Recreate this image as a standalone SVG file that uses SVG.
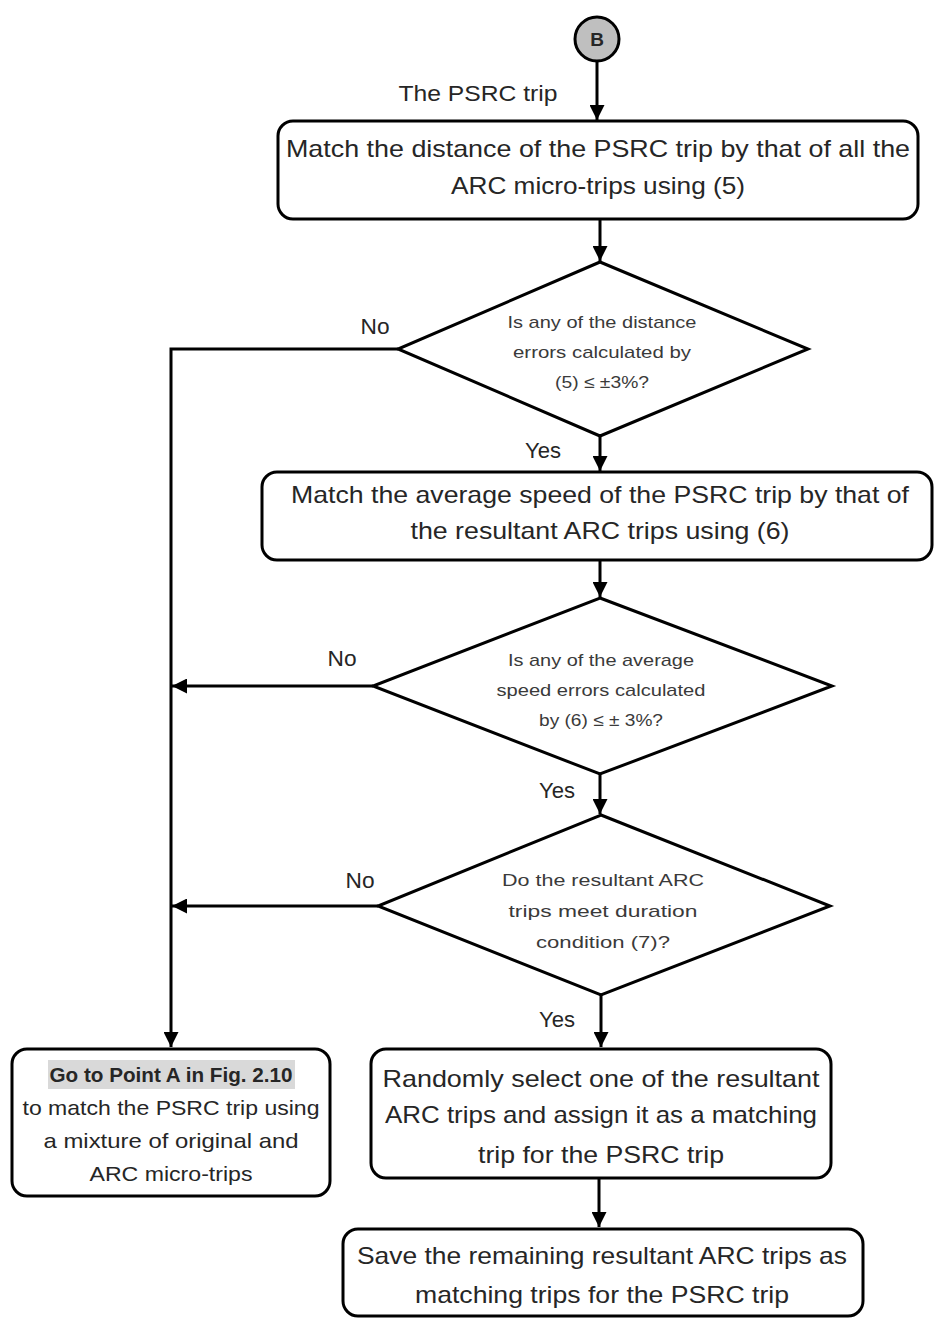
<svg xmlns="http://www.w3.org/2000/svg" width="934" height="1318" viewBox="0 0 934 1318">
<style>
.box{fill:#fff;stroke:#000;stroke-width:3}
.dia{fill:#fff;stroke:#000;stroke-width:3}
.ln{fill:none;stroke:#000;stroke-width:3}
.t{font-family:"Liberation Sans",Arial,sans-serif;font-size:24px;fill:#262626;text-anchor:middle}
.d{font-family:"Liberation Sans",Arial,sans-serif;font-size:17px;fill:#3a3a3a;text-anchor:middle}
.lbl{font-family:"Liberation Sans",Arial,sans-serif;font-size:22px;fill:#262626;text-anchor:middle}
.g{font-family:"Liberation Sans",Arial,sans-serif;font-size:21px;fill:#262626;text-anchor:middle}
</style>
<defs>
<marker id="ah" viewBox="0 0 10 10" refX="10" refY="5" markerWidth="5" markerHeight="5" markerUnits="strokeWidth" orient="auto">
<path d="M0,0 L10,5 L0,10 Z" fill="#000"/>
</marker>
</defs>
<g id="connectors">
<line class="ln" x1="597" y1="61" x2="597" y2="120" marker-end="url(#ah)"/>
<line class="ln" x1="600" y1="219" x2="600" y2="261" marker-end="url(#ah)"/>
<polyline class="ln" points="398,349 171,349 171,1047" marker-end="url(#ah)"/>
<line class="ln" x1="600" y1="436" x2="600" y2="471" marker-end="url(#ah)"/>
<line class="ln" x1="600" y1="560" x2="600" y2="597" marker-end="url(#ah)"/>
<line class="ln" x1="373" y1="686" x2="172" y2="686" marker-end="url(#ah)"/>
<line class="ln" x1="600" y1="774" x2="600" y2="814" marker-end="url(#ah)"/>
<line class="ln" x1="378" y1="906" x2="172" y2="906" marker-end="url(#ah)"/>
<line class="ln" x1="601" y1="995" x2="601" y2="1047" marker-end="url(#ah)"/>
<line class="ln" x1="599" y1="1178" x2="599" y2="1227" marker-end="url(#ah)"/>
<text class="lbl" x="478" y="101" textLength="159" lengthAdjust="spacingAndGlyphs">The PSRC trip</text>
<text class="lbl" x="375" y="334" textLength="29" lengthAdjust="spacingAndGlyphs">No</text>
<text class="lbl" x="543" y="458" textLength="36" lengthAdjust="spacingAndGlyphs">Yes</text>
<text class="lbl" x="342" y="666" textLength="29" lengthAdjust="spacingAndGlyphs">No</text>
<text class="lbl" x="557" y="798" textLength="36" lengthAdjust="spacingAndGlyphs">Yes</text>
<text class="lbl" x="360" y="888" textLength="29" lengthAdjust="spacingAndGlyphs">No</text>
<text class="lbl" x="557" y="1027" textLength="36" lengthAdjust="spacingAndGlyphs">Yes</text>
</g>
<g id="nodeB">
<circle cx="597" cy="39" r="22" fill="#bfbfbf" stroke="#000" stroke-width="3"/>
<text x="597" y="46" font-family="Liberation Sans,Arial,sans-serif" font-size="19" font-weight="bold" fill="#262626" text-anchor="middle">B</text>
</g>
<g id="box1">
<rect class="box" x="278" y="121" width="640" height="98" rx="15"/>
<text class="t" x="598" y="157" textLength="624" lengthAdjust="spacingAndGlyphs">Match the distance of the PSRC trip by that of all the</text>
<text class="t" x="598" y="194" textLength="294" lengthAdjust="spacingAndGlyphs">ARC micro-trips using (5)</text>
</g>
<g id="dia1">
<polygon class="dia" points="600,262 808,349 600,436 398,349"/>
<text class="d" x="602" y="328" textLength="189" lengthAdjust="spacingAndGlyphs">Is any of the distance</text>
<text class="d" x="602" y="358" textLength="178" lengthAdjust="spacingAndGlyphs">errors calculated by</text>
<text class="d" x="602" y="388" textLength="94" lengthAdjust="spacingAndGlyphs">(5) ≤ ±3%?</text>
</g>
<g id="box2">
<rect class="box" x="262" y="472" width="670" height="88" rx="15"/>
<text class="t" x="600" y="503" textLength="618" lengthAdjust="spacingAndGlyphs">Match the average speed of the PSRC trip by that of</text>
<text class="t" x="600" y="539" textLength="379" lengthAdjust="spacingAndGlyphs">the resultant ARC trips using (6)</text>
</g>
<g id="dia2">
<polygon class="dia" points="600,598 832,686 600,774 373,686"/>
<text class="d" x="601" y="666" textLength="186" lengthAdjust="spacingAndGlyphs">Is any of the average</text>
<text class="d" x="601" y="696" textLength="209" lengthAdjust="spacingAndGlyphs">speed errors calculated</text>
<text class="d" x="601" y="726" textLength="124" lengthAdjust="spacingAndGlyphs">by (6) ≤ ± 3%?</text>
</g>
<g id="dia3">
<polygon class="dia" points="601,815 830,906 601,995 378,906"/>
<text class="d" x="603" y="886" textLength="202" lengthAdjust="spacingAndGlyphs">Do the resultant ARC</text>
<text class="d" x="603" y="917" textLength="189" lengthAdjust="spacingAndGlyphs">trips meet duration</text>
<text class="d" x="603" y="948" textLength="134" lengthAdjust="spacingAndGlyphs">condition (7)?</text>
</g>
<g id="boxGo">
<rect class="box" x="12" y="1049" width="318" height="147" rx="15"/>
<rect x="48" y="1060" width="247" height="29" fill="#d9d9d9"/>
<text class="g" x="171" y="1082" font-weight="bold" textLength="243" lengthAdjust="spacingAndGlyphs">Go to Point A in Fig. 2.10</text>
<text class="g" x="171" y="1115" textLength="297" lengthAdjust="spacingAndGlyphs">to match the PSRC trip using</text>
<text class="g" x="171" y="1148" textLength="255" lengthAdjust="spacingAndGlyphs">a mixture of original and</text>
<text class="g" x="171" y="1181" textLength="163" lengthAdjust="spacingAndGlyphs">ARC micro-trips</text>
</g>
<g id="boxRandom">
<rect class="box" x="371" y="1049" width="460" height="129" rx="15"/>
<text class="t" x="601" y="1087" textLength="437" lengthAdjust="spacingAndGlyphs">Randomly select one of the resultant</text>
<text class="t" x="601" y="1123" textLength="432" lengthAdjust="spacingAndGlyphs">ARC trips and assign it as a matching</text>
<text class="t" x="601" y="1163" textLength="246" lengthAdjust="spacingAndGlyphs">trip for the PSRC trip</text>
</g>
<g id="boxSave">
<rect class="box" x="343" y="1229" width="520" height="87" rx="15"/>
<text class="t" x="602" y="1264" textLength="490" lengthAdjust="spacingAndGlyphs">Save the remaining resultant ARC trips as</text>
<text class="t" x="602" y="1303" textLength="374" lengthAdjust="spacingAndGlyphs">matching trips for the PSRC trip</text>
</g>
</svg>
